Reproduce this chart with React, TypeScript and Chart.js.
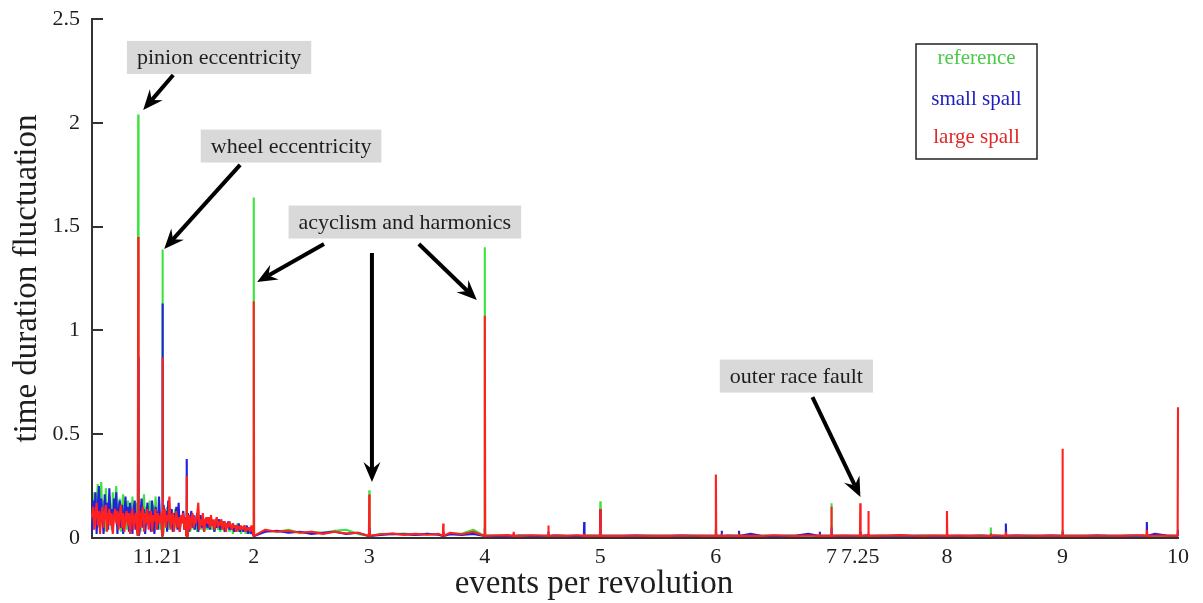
import React, { useEffect, useRef } from "react";
import { Chart, registerables } from "chart.js";

Chart.register(...registerables);

const FONT = "'Liberation Serif', 'Times New Roman', serif";
const TEXT_COLOR = "#1e1e1e";
const AXIS_COLOR = "#333333";

// ---- axis categories / ticks ----
const X_MIN = 0.6;
const X_MAX = 10;
const X_TICKS = [1, 1.21, 2, 3, 4, 5, 6, 7, 7.25, 8, 9, 10];
const Y_TICKS = [0, 0.5, 1, 1.5, 2, 2.5];

const SERIES_NAMES = ["reference", "small spall", "large spall"];
const SERIES_COLORS = ["#3ee23e", "#2222dd", "#ff2020"];
const LEGEND_COLORS = ["#4cc84c", "#1c1cc0", "#e02a2a"];

// low-order noisy region: x = 0.60 ... 2.00 step 0.01
const NOISE_X_START = 0.6;
const NOISE_X_STEP = 0.01;
const referenceNoise = [
  0.12, 0.04, 0.22, 0.09, 0.16, 0.26, 0.05, 0.19, 0.27, 0.10,
  0.18, 0.03, 0.24, 0.13, 0.08, 0.20, 0.15, 0.04, 0.22, 0.11,
  0.17, 0.25, 0.05, 0.14, 0.19, 0.03, 0.16, 0.21, 0.07, 0.13,
  0.04, 0.18, 0.11, 0.15, 0.03, 0.20, 0.08, 0.13, 0.17, 0.05,
  0.12, 0.19, 0.03, 0.14, 0.10, 0.21, 0.05, 0.15, 0.09, 0.13,
  0.18, 0.05, 0.12, 0.16, 0.03, 0.20, 0.10, 0.06, 0.14, 0.04,
  0.11, 0.17, 0.03, 0.13, 0.09, 0.15, 0.04, 0.12, 0.08, 0.11,
  0.03, 0.10, 0.14, 0.05, 0.09, 0.12, 0.03, 0.10, 0.07, 0.11,
  0.04, 0.09, 0.20, 0.05, 0.10, 0.03, 0.08, 0.11, 0.04, 0.09,
  0.07, 0.03, 0.10, 0.06, 0.08, 0.04, 0.09, 0.03, 0.07, 0.06,
  0.04, 0.08, 0.05, 0.09, 0.04, 0.07, 0.03, 0.08, 0.06, 0.04,
  0.07, 0.03, 0.06, 0.08, 0.04, 0.03, 0.07, 0.05, 0.06, 0.03,
  0.05, 0.06, 0.02, 0.06, 0.03, 0.05, 0.07, 0.03, 0.05, 0.02,
  0.05, 0.03, 0.06, 0.02, 0.05, 0.03, 0.02, 0.05, 0.03, 0.03,
  0.03,
];
const smallSpallNoise = [
  0.03, 0.18, 0.09, 0.22, 0.02, 0.15, 0.25, 0.06, 0.19, 0.11,
  0.02, 0.21, 0.12, 0.17, 0.04, 0.24, 0.10, 0.14, 0.03, 0.19,
  0.09, 0.22, 0.02, 0.13, 0.18, 0.05, 0.16, 0.02, 0.12, 0.20,
  0.08, 0.15, 0.03, 0.17, 0.10, 0.02, 0.14, 0.18, 0.04, 0.11,
  0.16, 0.02, 0.12, 0.19, 0.05, 0.14, 0.02, 0.10, 0.17, 0.06,
  0.13, 0.03, 0.18, 0.09, 0.02, 0.15, 0.11, 0.04, 0.20, 0.08,
  0.12, 0.03, 0.16, 0.09, 0.13, 0.03, 0.18, 0.10, 0.05, 0.14,
  0.03, 0.12, 0.08, 0.15, 0.04, 0.17, 0.03, 0.11, 0.09, 0.13,
  0.04, 0.10, 0.08, 0.12, 0.03, 0.09, 0.13, 0.05, 0.11, 0.04,
  0.09, 0.12, 0.03, 0.08, 0.11, 0.05, 0.10, 0.03, 0.09, 0.07,
  0.05, 0.10, 0.04, 0.09, 0.06, 0.08, 0.03, 0.09, 0.05, 0.07,
  0.09, 0.04, 0.07, 0.05, 0.08, 0.03, 0.07, 0.05, 0.08, 0.04,
  0.06, 0.04, 0.07, 0.03, 0.06, 0.05, 0.04, 0.07, 0.03, 0.05,
  0.05, 0.03, 0.05, 0.04, 0.06, 0.02, 0.05, 0.03, 0.02, 0.04,
  0.03,
];
const largeSpallNoise = [
  0.10, 0.15, 0.04, 0.12, 0.17, 0.06, 0.13, 0.02, 0.11, 0.15,
  0.05, 0.12, 0.16, 0.03, 0.10, 0.14, 0.06, 0.12, 0.02, 0.10,
  0.14, 0.07, 0.13, 0.04, 0.11, 0.16, 0.05, 0.12, 0.03, 0.10,
  0.13, 0.06, 0.12, 0.02, 0.11, 0.14, 0.04, 0.10, 0.12, 0.03,
  0.09, 0.13, 0.05, 0.11, 0.15, 0.03, 0.12, 0.07, 0.14, 0.04,
  0.10, 0.13, 0.03, 0.11, 0.08, 0.14, 0.04, 0.12, 0.07, 0.10,
  0.12, 0.03, 0.10, 0.14, 0.05, 0.11, 0.08, 0.20, 0.04, 0.10,
  0.12, 0.03, 0.09, 0.13, 0.05, 0.10, 0.03, 0.11, 0.07, 0.12,
  0.04, 0.10, 0.08, 0.06, 0.11, 0.04, 0.09, 0.12, 0.05, 0.10,
  0.07, 0.11, 0.17, 0.04, 0.09, 0.06, 0.12, 0.03, 0.08, 0.10,
  0.07, 0.10, 0.05, 0.11, 0.06, 0.09, 0.04, 0.08, 0.10, 0.05,
  0.08, 0.06, 0.09, 0.04, 0.07, 0.08, 0.03, 0.07, 0.05, 0.08,
  0.06, 0.04, 0.07, 0.05, 0.06, 0.03, 0.06, 0.05, 0.04, 0.06,
  0.04, 0.05, 0.06, 0.03, 0.05, 0.04, 0.05, 0.03, 0.06, 0.04,
  0.04,
];

// high-order baseline: x = 2.1 ... 9.9 step 0.1
const TAIL_X_START = 2.1;
const TAIL_X_STEP = 0.1;
const referenceTail = [
  0.035, 0.03, 0.04, 0.025, 0.03, 0.025, 0.035, 0.04, 0.02, 0.025,
  0.02, 0.018, 0.022, 0.015, 0.02, 0.018, 0.022, 0.02, 0.04, 0.03,
  0.012, 0.01, 0.012, 0.011, 0.01, 0.012, 0.011, 0.01, 0.012, 0.01,
  0.01, 0.011, 0.01, 0.012, 0.01, 0.011, 0.01, 0.012, 0.01, 0.011,
  0.011, 0.01, 0.012, 0.01, 0.011, 0.01, 0.012, 0.011, 0.01, 0.011,
  0.01, 0.011, 0.01, 0.012, 0.01, 0.011, 0.01, 0.012, 0.011, 0.01,
  0.011, 0.01, 0.012, 0.011, 0.01, 0.011, 0.012, 0.01, 0.011, 0.01,
  0.01, 0.011, 0.012, 0.01, 0.011, 0.01, 0.012, 0.011, 0.01,
];
const smallSpallTail = [
  0.03, 0.035, 0.025, 0.03, 0.02, 0.025, 0.03, 0.02, 0.025, 0.02,
  0.015, 0.02, 0.018, 0.015, 0.02, 0.016, 0.018, 0.015, 0.02, 0.018,
  0.01, 0.011, 0.012, 0.01, 0.011, 0.012, 0.01, 0.011, 0.01, 0.012,
  0.011, 0.01, 0.012, 0.01, 0.011, 0.01, 0.012, 0.01, 0.011, 0.01,
  0.012, 0.025, 0.02, 0.01, 0.011, 0.01, 0.012, 0.02, 0.025, 0.012,
  0.011, 0.01, 0.012, 0.01, 0.011, 0.012, 0.01, 0.011, 0.01, 0.012,
  0.01, 0.011, 0.012, 0.01, 0.011, 0.012, 0.01, 0.011, 0.012, 0.01,
  0.011, 0.01, 0.012, 0.011, 0.01, 0.012, 0.011, 0.02, 0.012,
];
const largeSpallTail = [
  0.04, 0.03, 0.035, 0.025, 0.03, 0.02, 0.03, 0.022, 0.025, 0.02,
  0.018, 0.022, 0.015, 0.02, 0.016, 0.02, 0.025, 0.018, 0.03, 0.02,
  0.012, 0.014, 0.01, 0.013, 0.011, 0.012, 0.01, 0.013, 0.01, 0.012,
  0.011, 0.01, 0.012, 0.01, 0.011, 0.01, 0.012, 0.011, 0.01, 0.012,
  0.01, 0.012, 0.011, 0.01, 0.013, 0.011, 0.01, 0.012, 0.011, 0.012,
  0.012, 0.011, 0.013, 0.01, 0.012, 0.014, 0.011, 0.01, 0.012, 0.011,
  0.012, 0.01, 0.011, 0.013, 0.01, 0.012, 0.011, 0.01, 0.012, 0.013,
  0.011, 0.01, 0.012, 0.011, 0.01, 0.012, 0.013, 0.011, 0.012,
];

// harmonic lines (events per revolution) and their peak heights
const spikeX = [1, 1.21, 1.42, 2, 3, 3.64, 4, 4.25, 4.55, 4.86, 5, 6, 6.05, 6.2, 6.9, 7, 7.25, 7.32, 8, 8.38, 8.51, 9, 9.73, 10];
const referenceSpikes = [2.04, 1.39, 0.20, 1.64, 0.23, 0.03, 1.40, 0.02, 0.02, 0.02, 0.177, 0.05, 0.02, 0.02, 0.02, 0.167, 0.03, 0.02, 0.03, 0.05, 0.02, 0.04, 0.02, 0.04];
const smallSpallSpikes = [0.87, 1.13, 0.38, 0.05, 0.05, 0.03, 0.05, 0.02, 0.03, 0.077, 0.14, 0.04, 0.035, 0.035, 0.03, 0.05, 0.03, 0.02, 0.02, 0.02, 0.07, 0.03, 0.077, 0.04];
const largeSpallSpikes = [1.45, 0.87, 0.30, 1.14, 0.21, 0.07, 1.07, 0.03, 0.06, 0.02, 0.14, 0.306, 0.02, 0.02, 0.02, 0.15, 0.167, 0.13, 0.13, 0.02, 0.03, 0.43, 0.04, 0.63];
const SPIKE_BASE = 0.01;
const SPIKE_HALF_WIDTH = 0.003;

// annotations (data coordinates)
const ANNOTATIONS = [
  { text: "pinion eccentricity", x: 1.70, y: 2.315, arrows: [[1.303, 2.23, 1.043, 2.062]] },
  { text: "wheel eccentricity", x: 2.323, y: 1.888, arrows: [[1.882, 1.797, 1.225, 1.392]] },
  {
    text: "acyclism and harmonics", x: 3.308, y: 1.522,
    arrows: [[2.608, 1.416, 2.029, 1.233], [3.023, 1.373, 3.023, 0.27], [3.429, 1.416, 3.931, 1.146]],
  },
  { text: "outer race fault", x: 6.697, y: 0.78, arrows: [[6.836, 0.679, 7.251, 0.197]] },
];

function buildSeries(noise: number[], tail: number[], spikes: number[]) {
  const pts: { x: number; y: number }[] = [];
  const nearSpike = (x: number) => spikeX.some((s) => Math.abs(s - x) < 0.006);
  noise.forEach((y, i) => {
    const x = +(NOISE_X_START + i * NOISE_X_STEP).toFixed(4);
    if (!nearSpike(x)) pts.push({ x, y });
  });
  tail.forEach((y, i) => {
    const x = +(TAIL_X_START + i * TAIL_X_STEP).toFixed(4);
    if (!nearSpike(x)) pts.push({ x, y });
  });
  spikes.forEach((y, i) => {
    const s = spikeX[i];
    pts.push({ x: s - SPIKE_HALF_WIDTH, y: SPIKE_BASE }, { x: s, y }, { x: s + SPIKE_HALF_WIDTH, y: SPIKE_BASE });
  });
  pts.sort((a, b) => a.x - b.x);
  return pts;
}

function drawArrow(ctx: CanvasRenderingContext2D, x1: number, y1: number, x2: number, y2: number) {
  const dx = x2 - x1;
  const dy = y2 - y1;
  const len = Math.hypot(dx, dy);
  const ux = dx / len;
  const uy = dy / len;
  const px = -uy;
  const py = ux;
  const headLen = 20;
  const headW = 8.5;
  const notch = 13;
  ctx.save();
  ctx.strokeStyle = "#000";
  ctx.fillStyle = "#000";
  ctx.lineWidth = 4;
  ctx.lineCap = "butt";
  ctx.beginPath();
  ctx.moveTo(x1, y1);
  ctx.lineTo(x2 - ux * notch, y2 - uy * notch);
  ctx.stroke();
  ctx.beginPath();
  ctx.moveTo(x2, y2);
  ctx.lineTo(x2 - ux * headLen + px * headW, y2 - uy * headLen + py * headW);
  ctx.lineTo(x2 - ux * notch, y2 - uy * notch);
  ctx.lineTo(x2 - ux * headLen - px * headW, y2 - uy * headLen - py * headW);
  ctx.closePath();
  ctx.fill();
  ctx.restore();
}

const decorPlugin = {
  id: "decor",
  afterDraw(chart: any) {
    const { ctx, chartArea, scales } = chart;
    const xs = scales.x;
    const ys = scales.y;
    ctx.save();
    // inward y tick marks
    ctx.strokeStyle = AXIS_COLOR;
    ctx.lineWidth = 2;
    Y_TICKS.forEach((v) => {
      const y = Math.round(ys.getPixelForValue(v));
      ctx.beginPath();
      ctx.moveTo(chartArea.left, y);
      ctx.lineTo(chartArea.left + 11, y);
      ctx.stroke();
    });

    // axis titles
    ctx.fillStyle = TEXT_COLOR;
    ctx.font = `33px ${FONT}`;
    ctx.textAlign = "center";
    ctx.textBaseline = "alphabetic";
    ctx.fillText("events per revolution", 594, 593);
    ctx.save();
    ctx.translate(36, (chartArea.top + chartArea.bottom) / 2);
    ctx.rotate(-Math.PI / 2);
    ctx.fillText("time duration fluctuation", 0, 0);
    ctx.restore();

    // annotations
    ctx.font = `22px ${FONT}`;
    ANNOTATIONS.forEach((a) => {
      a.arrows.forEach(([ax1, ay1, ax2, ay2]) => {
        drawArrow(
          ctx,
          xs.getPixelForValue(ax1),
          ys.getPixelForValue(ay1),
          xs.getPixelForValue(ax2),
          ys.getPixelForValue(ay2)
        );
      });
      const cx = xs.getPixelForValue(a.x);
      const cy = ys.getPixelForValue(a.y);
      const w = ctx.measureText(a.text).width + 20;
      const h = 33;
      ctx.fillStyle = "#d9d9d9";
      ctx.fillRect(cx - w / 2, cy - h / 2, w, h);
      ctx.fillStyle = TEXT_COLOR;
      ctx.textAlign = "center";
      ctx.textBaseline = "middle";
      ctx.fillText(a.text, cx, cy + 1);
    });

    // legend box
    const lRight = chartArea.right - 141;
    const lLeft = lRight - 121;
    const lTop = chartArea.top + 25;
    const lBottom = lTop + 115;
    ctx.fillStyle = "#ffffff";
    ctx.fillRect(lLeft, lTop, lRight - lLeft, lBottom - lTop);
    ctx.strokeStyle = "#222";
    ctx.lineWidth = 1.5;
    ctx.strokeRect(lLeft, lTop, lRight - lLeft, lBottom - lTop);
    ctx.font = `21px ${FONT}`;
    ctx.textAlign = "center";
    ctx.textBaseline = "middle";
    const offs = [14, 55, 93];
    SERIES_NAMES.forEach((n, i) => {
      ctx.fillStyle = LEGEND_COLORS[i];
      ctx.fillText(n, (lLeft + lRight) / 2, lTop + offs[i]);
    });
    ctx.restore();
  },
};

export default function App() {
  const ref = useRef<HTMLCanvasElement | null>(null);
  useEffect(() => {
    if (!ref.current) return;
    const seriesData = [
      buildSeries(referenceNoise, referenceTail, referenceSpikes),
      buildSeries(smallSpallNoise, smallSpallTail, smallSpallSpikes),
      buildSeries(largeSpallNoise, largeSpallTail, largeSpallSpikes),
    ];
    const chart = new Chart(ref.current, {
      type: "line",
      data: {
        datasets: SERIES_NAMES.map((name, i) => ({
          label: name,
          data: seriesData[i],
          borderColor: SERIES_COLORS[i],
          backgroundColor: SERIES_COLORS[i],
          borderWidth: 2.1,
          pointRadius: 0,
          tension: 0,
          fill: false,
          clip: false as any,
          borderJoinStyle: "bevel" as const,
          order: 2 - i,
        })),
      },
      options: {
        responsive: false,
        animation: false,
        devicePixelRatio: 1,
        parsing: false as any,
        normalized: true,
        layout: { padding: { top: 19, right: 25, left: 0, bottom: 0 } },
        plugins: { legend: { display: false }, tooltip: { enabled: false } },
        scales: {
          x: {
            type: "linear",
            min: X_MIN,
            max: X_MAX,
            afterBuildTicks: (scale: any) => {
              scale.ticks = X_TICKS.map((v) => ({ value: v }));
            },
            afterFit: (scale: any) => {
              scale.height = 65;
              scale.paddingLeft = 0;
              scale.paddingRight = 0;
            },
            ticks: {
              autoSkip: false,
              maxRotation: 0,
              minRotation: 0,
              padding: 6,
              color: TEXT_COLOR,
              font: { family: FONT, size: 22 },
              callback: (v: any) => String(v),
            },
            grid: { display: false, drawTicks: false },
            border: { display: true, color: AXIS_COLOR, width: 2 },
          },
          y: {
            type: "linear",
            min: 0,
            max: 2.5,
            afterBuildTicks: (scale: any) => {
              scale.ticks = Y_TICKS.map((v) => ({ value: v }));
            },
            afterFit: (scale: any) => {
              scale.width = 92;
              scale.paddingTop = 0;
              scale.paddingBottom = 0;
            },
            ticks: {
              padding: 12,
              color: TEXT_COLOR,
              font: { family: FONT, size: 22 },
              callback: (v: any) => String(v),
            },
            grid: { display: false, drawTicks: false },
            border: { display: true, color: AXIS_COLOR, width: 2 },
          },
        },
      },
      plugins: [decorPlugin],
    });
    return () => chart.destroy();
  }, []);
  return (
    <div style={{ position: "absolute", left: 0, top: 0, width: 1203, height: 603, background: "#fff" }}>
      <canvas ref={ref} width={1203} height={603} style={{ display: "block" }} />
    </div>
  );
}
